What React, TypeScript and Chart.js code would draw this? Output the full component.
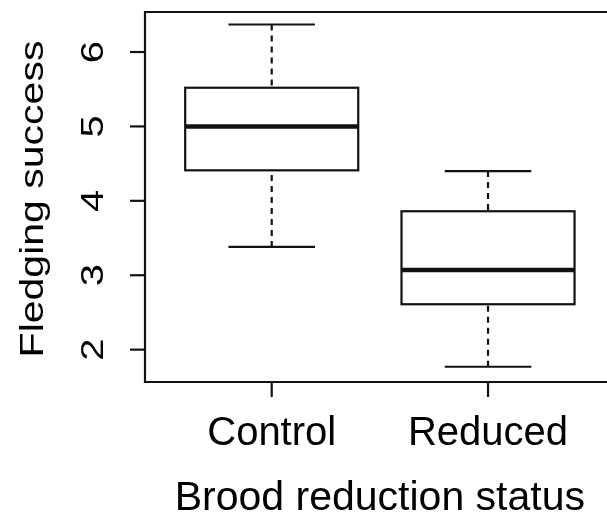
import React, { useEffect, useRef } from 'react';
import { Chart, registerables } from 'chart.js';

Chart.register(...registerables);

// ---- data ----
const categories = ['Control', 'Reduced'];
const whiskerLow = [3.38, 1.77];
const quartile1 = [4.41, 2.61];
const medians = [5.0, 3.07];
const quartile3 = [5.52, 3.86];
const whiskerHigh = [6.37, 4.4];
const yTicks = [2, 3, 4, 5, 6];
const yTitle = 'Fledging success';
const xTitle = 'Brood reduction status';

const LINE = '#121212';
const FONT = '"Liberation Sans", Arial, Helvetica, sans-serif';

const rBoxPlugin = {
  id: 'rBoxPlot',
  afterDraw(chart: any) {
    const { ctx, chartArea: a, scales } = chart;
    const x = scales.x;
    const y = scales.y;
    ctx.save();
    ctx.strokeStyle = LINE;
    ctx.lineCap = 'butt';

    // whiskers, staples, boxes, medians
    categories.forEach((_, i) => {
      const v = i + 1;
      const cx = x.getPixelForValue(v);
      const hw = x.getPixelForValue(v + 0.4) - cx;
      const sw = x.getPixelForValue(v + 0.2) - cx;
      const yLo = y.getPixelForValue(whiskerLow[i]);
      const yQ1 = y.getPixelForValue(quartile1[i]);
      const yMed = y.getPixelForValue(medians[i]);
      const yQ3 = y.getPixelForValue(quartile3[i]);
      const yHi = y.getPixelForValue(whiskerHigh[i]);

      ctx.lineWidth = 2.2;
      ctx.setLineDash([6, 5]);
      ctx.beginPath();
      ctx.moveTo(cx, yLo);
      ctx.lineTo(cx, yQ1);
      ctx.moveTo(cx, yHi);
      ctx.lineTo(cx, yQ3);
      ctx.stroke();
      ctx.setLineDash([]);

      ctx.beginPath();
      ctx.moveTo(cx - sw, yLo);
      ctx.lineTo(cx + sw, yLo);
      ctx.moveTo(cx - sw, yHi);
      ctx.lineTo(cx + sw, yHi);
      ctx.stroke();

      ctx.fillStyle = '#ffffff';
      ctx.fillRect(cx - hw, yQ3, 2 * hw, yQ1 - yQ3);
      ctx.strokeRect(cx - hw, yQ3, 2 * hw, yQ1 - yQ3);

      ctx.lineWidth = 4.5;
      ctx.beginPath();
      ctx.moveTo(cx - hw, yMed);
      ctx.lineTo(cx + hw, yMed);
      ctx.stroke();
    });

    // frame (right side lies beyond the visible area)
    ctx.lineWidth = 2.2;
    ctx.beginPath();
    ctx.moveTo(a.right + 10, a.top);
    ctx.lineTo(a.left, a.top);
    ctx.lineTo(a.left, a.bottom);
    ctx.lineTo(a.right + 10, a.bottom);
    ctx.stroke();

    // y ticks and labels (rotated, parallel to axis)
    ctx.fillStyle = '#000';
    yTicks.forEach((t) => {
      const py = y.getPixelForValue(t);
      ctx.beginPath();
      ctx.moveTo(a.left - 15, py);
      ctx.lineTo(a.left, py);
      ctx.stroke();
      ctx.save();
      ctx.translate(103, py);
      ctx.rotate(-Math.PI / 2);
      ctx.scale(1, 0.8);
      ctx.font = '40px ' + FONT;
      ctx.textAlign = 'center';
      ctx.textBaseline = 'alphabetic';
      ctx.fillText(String(t), 0, 0);
      ctx.restore();
    });

    // x ticks and labels
    categories.forEach((c, i) => {
      const px = x.getPixelForValue(i + 1);
      ctx.beginPath();
      ctx.moveTo(px, a.bottom);
      ctx.lineTo(px, a.bottom + 15);
      ctx.stroke();
      ctx.font = '40px ' + FONT;
      ctx.textAlign = 'center';
      ctx.textBaseline = 'alphabetic';
      ctx.fillText(c, px, 445);
    });

    // axis titles
    ctx.font = '41px ' + FONT;
    ctx.textAlign = 'center';
    ctx.textBaseline = 'alphabetic';
    ctx.fillText(xTitle, x.getPixelForValue(1.5), 510);

    ctx.save();
    ctx.translate(43, 199);
    ctx.rotate(-Math.PI / 2);
    ctx.scale(1, 0.8);
    ctx.font = '41px ' + FONT;
    ctx.textAlign = 'center';
    ctx.fillText(yTitle, 0, 0);
    ctx.restore();

    ctx.restore();
  },
};

export default function App() {
  const ref = useRef<HTMLCanvasElement>(null);
  useEffect(() => {
    if (!ref.current) return;
    const chart = new Chart(ref.current, {
      type: 'scatter',
      data: { datasets: [{ label: 'box', data: [] }] },
      options: {
        responsive: false,
        animation: false,
        devicePixelRatio: 1,
        layout: { padding: { left: 145, top: 12, right: 0, bottom: 139 } },
        plugins: { legend: { display: false }, tooltip: { enabled: false } },
        scales: {
          x: { type: 'linear', display: false, min: 0.4142, max: 2.55 },
          y: { type: 'linear', display: false, min: 1.565, max: 6.538 },
        },
      },
      plugins: [rBoxPlugin],
    });
    return () => chart.destroy();
  }, []);
  return (
    <div style={{ position: 'fixed', left: 0, top: 0, width: 607, height: 521, background: '#ffffff' }}>
      <canvas ref={ref} width={607} height={521} style={{ display: 'block', width: 607, height: 521 }} />
    </div>
  );
}
